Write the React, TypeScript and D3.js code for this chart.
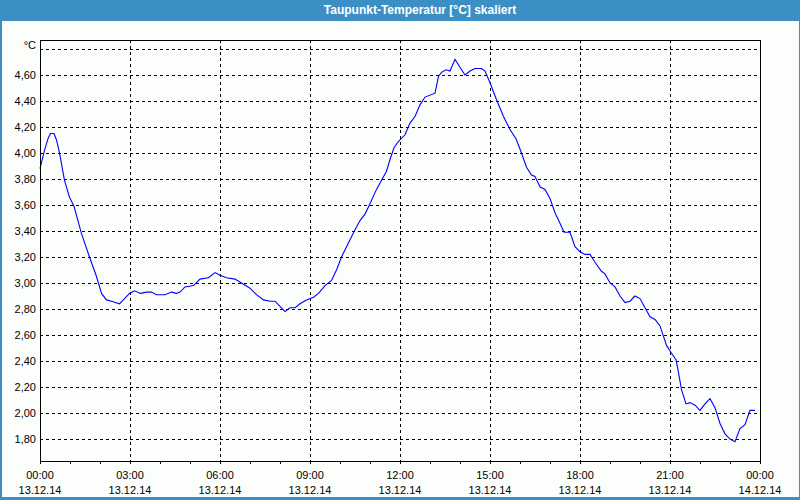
import React from 'react'
import * as d3 from 'd3'

// Messwerte: Minuten seit 13.12.14 00:00 und Taupunkt in °C
const minutes = [
  0, 9, 16, 21, 28, 33, 39, 49, 59, 68, 83, 99, 113, 123, 133, 143, 159, 169, 179, 189,
  201, 213, 223, 233, 250, 263, 273, 280, 290, 307, 320, 337, 350, 360, 373, 390, 407, 420,
  433, 447, 460, 470, 480, 490, 500, 510, 520, 533, 547, 557, 570, 583, 593, 603, 617, 630,
  640, 650, 660, 673, 683, 693, 700, 708, 717, 730, 740, 750, 760, 770, 790, 797, 803, 812,
  820, 830, 840, 850, 860, 870, 883, 890, 900, 913, 927, 940, 952, 963, 973, 983, 990, 1000,
  1010, 1020, 1030, 1040, 1048, 1060, 1070, 1080, 1090, 1100, 1110, 1123, 1130, 1140, 1150,
  1160, 1170, 1180, 1190, 1200, 1210, 1220, 1230, 1240, 1247, 1253, 1263, 1272, 1277, 1283,
  1292, 1300, 1310, 1320, 1330, 1340, 1350, 1360, 1370, 1380, 1390, 1400, 1410, 1420, 1430,
]
const temps = [
  3.88, 4.02, 4.11, 4.15, 4.15, 4.1, 4.0, 3.79, 3.66, 3.59, 3.38, 3.2, 3.05, 2.92, 2.87, 2.86,
  2.84, 2.88, 2.92, 2.94, 2.92, 2.93, 2.93, 2.91, 2.91, 2.93, 2.92, 2.93, 2.97, 2.98, 3.03, 3.04,
  3.08, 3.06, 3.04, 3.03, 2.99, 2.96, 2.91, 2.87, 2.86, 2.86, 2.82, 2.78, 2.81, 2.81, 2.84, 2.87,
  2.89, 2.92, 2.98, 3.02, 3.1, 3.2, 3.31, 3.41, 3.48, 3.53, 3.61, 3.72, 3.79, 3.86, 3.95, 4.04,
  4.09, 4.14, 4.23, 4.28, 4.37, 4.43, 4.46, 4.59, 4.62, 4.64, 4.63, 4.72, 4.66, 4.6, 4.63, 4.65,
  4.65, 4.63, 4.54, 4.41, 4.28, 4.18, 4.11, 4.0, 3.89, 3.83, 3.82, 3.74, 3.72, 3.65, 3.54, 3.46,
  3.39, 3.39, 3.28, 3.24, 3.22, 3.22, 3.16, 3.09, 3.07, 3.0, 2.97, 2.9, 2.85, 2.86, 2.9, 2.88,
  2.81, 2.74, 2.72, 2.67, 2.59, 2.52, 2.46, 2.41, 2.31, 2.18, 2.07, 2.08, 2.06, 2.02, 2.07, 2.11,
  2.04, 1.92, 1.84, 1.8, 1.78, 1.88, 1.91, 2.02, 2.02,
]

const yTicks = [1.8, 2.0, 2.2, 2.4, 2.6, 2.8, 3.0, 3.2, 3.4, 3.6, 3.8, 4.0, 4.2, 4.4, 4.6, 4.8]
const xMajor = [0, 180, 360, 540, 720, 900, 1080, 1260, 1440]
const timeLabels = ['00:00', '03:00', '06:00', '09:00', '12:00', '15:00', '18:00', '21:00', '00:00']
const dateLabels = ['13.12.14', '13.12.14', '13.12.14', '13.12.14', '13.12.14', '13.12.14', '13.12.14', '13.12.14', '14.12.14']

const W = 800
const H = 500
const margin = { top: 40, right: 40, bottom: 39, left: 40 }
const font = '"Liberation Sans", Arial, sans-serif'

export default function App() {
  const x = d3.scaleLinear().domain([0, 1440]).range([margin.left, W - margin.right])
  const y = d3.scaleLinear().domain([1.631, 4.869]).range([H - margin.bottom, margin.top])
  const fmt = (v: number) => (v >= 4.79 ? '°C' : d3.format('.2f')(v).replace('.', ','))

  const line = d3
    .line<number>()
    .x((_, i) => x(minutes[i]))
    .y((d) => y(d))

  const minorTicks = d3.range(0, 1441, 60)
  const x0 = x(0), x1 = x(1440), yTop = y.range()[1], yBot = y.range()[0]

  return (
    <svg width={W} height={H} style={{ position: 'absolute', left: 0, top: 0 }} fontFamily={font}>
      <rect x={0} y={0} width={W} height={H} fill="#3c8fc4" />
      <rect x={2} y={21} width={W - 3} height={H - 24} fill="#fcfefc" />
      <text x={420} y={14} fill="#fff" fontSize={12} fontWeight="bold" textAnchor="middle">
        Taupunkt-Temperatur [°C] skaliert
      </text>

      <g shapeRendering="crispEdges" stroke="#000" strokeWidth={1} strokeDasharray="3,3">
        {yTicks.map((t) => (
          <line key={t} x1={x0} x2={x1} y1={Math.round(y(t)) + 0.5} y2={Math.round(y(t)) + 0.5} />
        ))}
        {xMajor.slice(1, -1).map((m) => (
          <line key={m} x1={x(m) + 0.5} x2={x(m) + 0.5} y1={yTop} y2={yBot} />
        ))}
      </g>

      <path d={line(temps) ?? ''} fill="none" stroke="#0000ff" strokeWidth={1.1} />

      <g shapeRendering="crispEdges" stroke="#000" strokeWidth={1}>
        <rect x={x0 + 0.5} y={yTop + 0.5} width={x1 - x0} height={yBot - yTop} fill="none" />
        {minorTicks.map((m) => (
          <line key={m} x1={x(m) + 0.5} x2={x(m) + 0.5} y1={yBot} y2={yBot + 3} />
        ))}
      </g>

      <g fontSize={11} fill="#000">
        {yTicks.map((t) =>
          t >= 4.79 ? (
            <text key={t} x={36} y={y(t)} textAnchor="end">{fmt(t)}</text>
          ) : (
            <text key={t} x={36} y={y(t)} dy="0.35em" textAnchor="end">{fmt(t)}</text>
          )
        )}
        {xMajor.map((m, i) => (
          <g key={i} textAnchor="middle">
            <text x={x(m)} y={479}>{timeLabels[i]}</text>
            <text x={x(m)} y={494}>{dateLabels[i]}</text>
          </g>
        ))}
      </g>
    </svg>
  )
}
